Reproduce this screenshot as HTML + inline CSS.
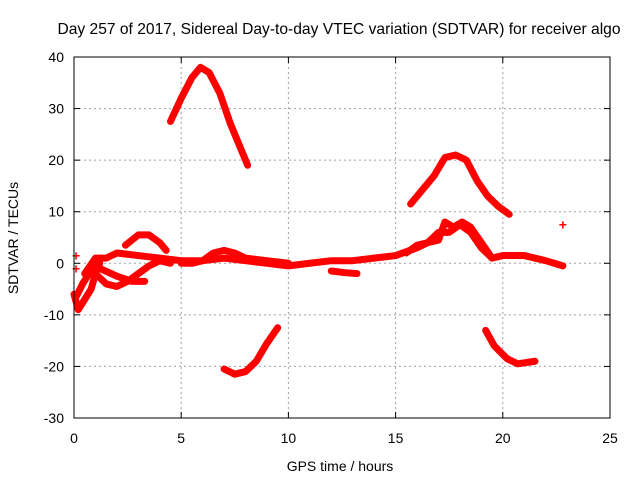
<!DOCTYPE html>
<html><head><meta charset="utf-8"><style>
body{margin:0;background:#fff;font-family:"Liberation Sans",sans-serif}
svg text{font-family:"Liberation Sans",sans-serif;font-size:14px;fill:#000}
</style></head><body>
<svg id="chart" width="640" height="480">
<text x="339" y="34" text-anchor="middle" style="font-size:15.6px">Day 257 of 2017, Sidereal Day-to-day VTEC variation (SDTVAR) for receiver algo</text>
<g id="grid"></g><g id="series"></g><g id="axes"></g>
<text x="340" y="471" text-anchor="middle">GPS time / hours</text>
<text transform="translate(18,238) rotate(-90)" text-anchor="middle">SDTVAR / TECUs</text>
</svg>
<script>
const xTicks=[0,5,10,15,20,25];
const yTicks=[-30,-20,-10,0,10,20,30,40];
const arcMorningHigh=[[4.5,27.5],[5,32],[5.5,36],[5.9,38],[6.3,37],[6.8,33],[7.3,27],[7.8,22],[8.1,19]];
const arcMorningLow=[[7,-20.5],[7.5,-21.5],[8,-21],[8.5,-19],[9,-15.5],[9.5,-12.5]];
const arcEveningHigh=[[15.7,11.5],[16.2,14],[16.8,17],[17.3,20.5],[17.8,21],[18.3,20],[18.8,16],[19.3,13],[19.8,11],[20.3,9.5]];
const arcEveningLow=[[19.2,-13],[19.6,-16],[20.2,-18.5],[20.7,-19.5],[21.5,-19]];
const mainBand=[[0.5,-2],[1,1],[1.5,1],[2,2],[3,1.5],[4,1],[5,0.5],[6,0.5],[7,1],[8,0.5],[9,0],[10,-0.5],[11,0],[12,0.5],[13,0.5],[14,1],[15,1.5],[16,3],[16.5,4],[17,6],[17.5,6],[18,7.5],[18.5,6],[19,3],[19.5,1],[20,1.5],[21,1.5],[22,0.5],[22.8,-0.5]];
const secondBand=[[5,0],[5.5,0],[6,0.5],[6.5,2],[7,2.5],[7.5,2],[8,1],[9,0.5],[10,0]];
const humpThree=[[2.4,3.5],[3,5.5],[3.5,5.5],[4,4],[4.3,2.5]];
const lowerLoop=[[1,-2],[1.5,-4],[2,-4.5],[2.5,-3.5],[3,-2],[3.5,-0.5],[4,0.5],[4.5,0]];
const lowerLoop2=[[1.2,-1],[2,-2.5],[2.7,-3.5],[3.3,-3.5]];
const leftEdge=[[0,-6],[0.2,-9],[0.5,-7],[0.8,-5],[1,-2],[1.2,0]];
const leftEdge2=[[0.1,-6.5],[0.4,-4],[0.7,-2],[0.9,0]];
const eveningBand=[[15.5,2],[16,3.5],[17,4.5],[17.3,8],[17.7,7],[18.1,8],[18.5,7],[19,4],[19.5,1]];
const dipSegment=[[12,-1.5],[12.6,-1.8],[13.2,-2]];
const isolated=[[22.8,7.5],[0.1,1.5],[0.1,-1]];
const seriesList=[arcMorningHigh,arcMorningLow,arcEveningHigh,arcEveningLow,mainBand,secondBand,humpThree,lowerLoop,lowerLoop2,leftEdge,leftEdge2,eveningBand,dipSegment];
const X0=74,X1=610,Y0=418,Y1=57;
const sx=h=>X0+(h-0)/25*(X1-X0);
const sy=v=>Y0-(v+30)/70*(Y0-Y1);
const NS="http://www.w3.org/2000/svg";
function mk(t,a,p){const e=document.createElementNS(NS,t);for(const k in a)e.setAttribute(k,a[k]);p.appendChild(e);return e;}
const g=document.getElementById('grid'),ax=document.getElementById('axes'),s=document.getElementById('series');
xTicks.forEach(t=>{
 if(t>0&&t<25){const l=mk('line',{x1:sx(t),x2:sx(t),y1:Y1,y2:Y0,stroke:'#a0a0a0','stroke-dasharray':'2,3'},g);
 
 }
 mk('line',{x1:sx(t),x2:sx(t),y1:Y0,y2:Y0-6,stroke:'#000'},ax);
 mk('line',{x1:sx(t),x2:sx(t),y1:Y1,y2:Y1+6,stroke:'#000'},ax);
 const tx=mk('text',{x:sx(t),y:Y0+25,'text-anchor':'middle'},ax);tx.textContent=t;
 
 
});
yTicks.forEach(t=>{
 if(t>-30&&t<40){const l=mk('line',{x1:X0,x2:X1,y1:sy(t),y2:sy(t),stroke:'#a0a0a0','stroke-dasharray':'2,3'},g);
 
 }
 mk('line',{x1:X0,x2:X0+6,y1:sy(t),y2:sy(t),stroke:'#000'},ax);
 mk('line',{x1:X1,x2:X1-6,y1:sy(t),y2:sy(t),stroke:'#000'},ax);
 const tx=mk('text',{x:X0-10,y:sy(t)+5,'text-anchor':'end'},ax);tx.textContent=t;
 
 
});
const fr=mk('rect',{x:X0,y:Y1,width:X1-X0,height:Y0-Y1,fill:'none',stroke:'#000'},ax);


seriesList.forEach(d=>{
 const p=mk('polyline',{points:d.map(q=>sx(q[0])+','+sy(q[1])).join(' '),fill:'none',stroke:'#f00','stroke-width':7,'stroke-linejoin':'round','stroke-linecap':'round'},s);
 
 
});
isolated.forEach(q=>{
 const t=mk('text',{x:sx(q[0]),y:sy(q[1])+5,'text-anchor':'middle',style:'fill:#f00;font-weight:bold'},s);t.textContent='+';
 
 
});
</script>
</body></html>
